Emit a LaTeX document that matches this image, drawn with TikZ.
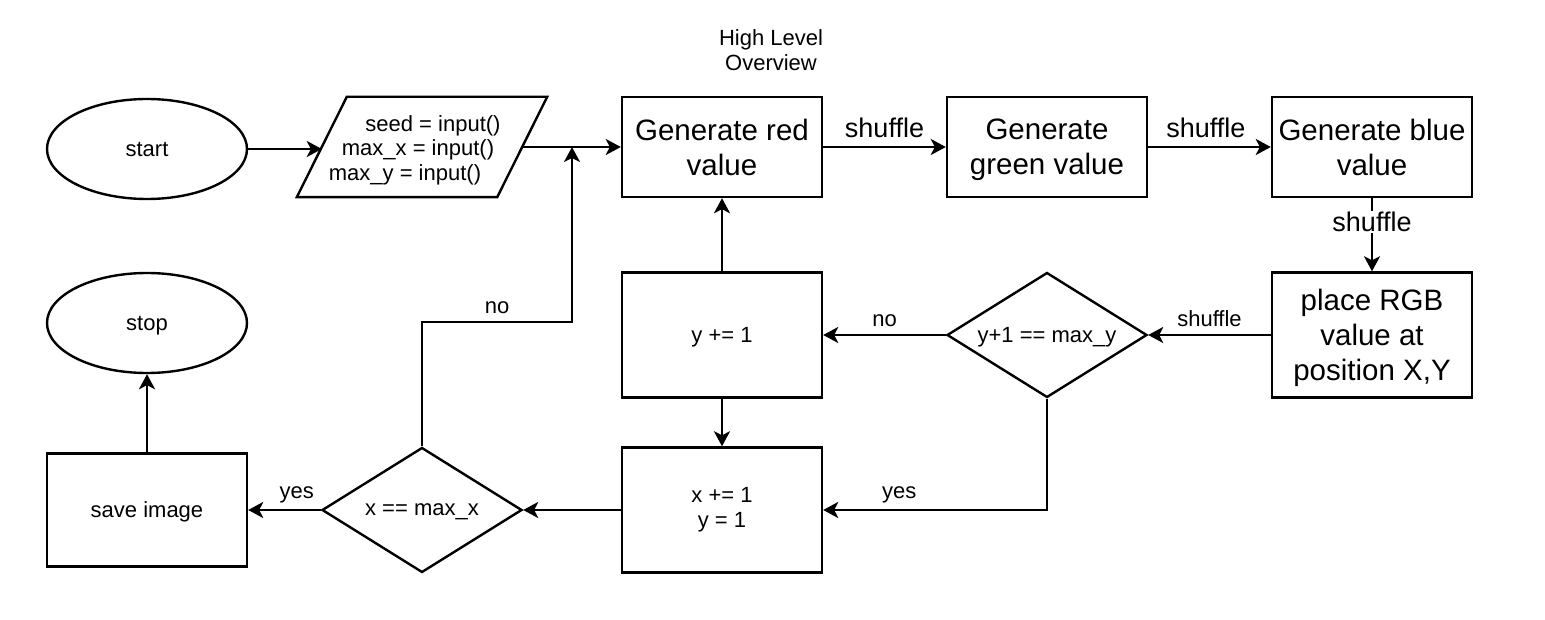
\documentclass[tikz,border=0pt]{standalone}
\usepackage{fontspec}
\setmainfont{Liberation Sans}
\usetikzlibrary{arrows.meta,shapes.geometric,calc}
\newcommand{\nodesc}[1]{\raisebox{0pt}[\height][0pt]{#1}}
\tikzset{
  base/.style={draw, line width=2.4pt, inner sep=0pt, align=center, font=\fontsize{29.5}{35}\selectfont},
  proc/.style={base, rectangle, minimum width=200pt, minimum height=100pt},
  procsm/.style={base, rectangle, minimum width=200pt, minimum height=125pt, font=\fontsize{22}{25}\selectfont},
  term/.style={base, ellipse, minimum width=200pt, minimum height=100pt, font=\fontsize{22}{25}\selectfont, text depth=0pt},
  dec/.style={base, diamond, minimum width=200pt, minimum height=125pt, aspect=1.6, font=\fontsize{22}{25}\selectfont, text depth=0pt},
  conn/.style={line width=2.4pt, -{Stealth[length=15pt, width=16pt, inset=4pt]}},
  lbl/.style={font=\fontsize{22}{25}\selectfont, inner sep=1pt},
  lblbig/.style={font=\fontsize{27}{30}\selectfont, inner sep=1pt},
}
\begin{document}
\begin{tikzpicture}[x=1pt, y=-1pt]
\useasboundingbox (0,0) rectangle (1545,620);
% title
\node[lbl, align=center] (title) at (771,50) {High Level\\Overview};
% nodes
\node[term] (start) at (147,149) {start};
\node[rectangle, minimum width=200pt, minimum height=100pt, inner sep=0pt] (par) at (422,147) {};
\draw[line width=2.4pt, line join=miter] ($(par.north west)+(25,0)$) -- ($(par.north east)+(25,0)$) -- ($(par.south east)+(-25,0)$) -- ($(par.south west)+(-25,0)$) -- cycle;
\node[lbl] (p1) at (433,126) {seed = input()};
\node[lbl] (p2) at (418,150) {max\_x = input()};
\node[lbl] (p3) at (405,175) {max\_y = input()};
\node[proc] (red) at (722,147) {Generate red\\value};
\node[proc] (green) at (1047,147) {Generate\\\nodesc{green value}};
\node[proc] (blue) at (1372,147) {Generate blue\\value};
\node[proc, minimum height=125pt] (place) at (1372,335) {place RGB\\value at\\\nodesc{position X,Y}};
\node[dec] (d1) at (1047,335) {y+1 == max\_y};
\node[procsm, text depth=0pt] (yinc) at (722,335) {y += 1};
\node[procsm] (xinc) at (722,510) {x += 1\\y = 1};
\node[dec] (d2) at (422,510) {x == max\_x};
\node[procsm, minimum height=113pt, text depth=0pt] (save) at (147,510) {save image};
\node[term] (stop) at (147,323) {stop};
\coordinate (join) at (572,147);
% connectors
\draw[conn] (start.east) -- (start.east -| par.west);
\draw[conn] (par) -- (red);
\draw[conn] (red) -- node[lblbig, above=7pt] (s1) {shuffle} (green);
\draw[conn] (green) -- node[lblbig, above=7pt, pos=0.47] (s2) {shuffle} (blue);
\draw[conn] (blue) -- node[lblbig, fill=white, pos=0.33] (s3) {shuffle} (place);
\draw[conn] (place) -- node[lbl, above=6pt, pos=0.5] (s4) {shuffle} (d1);
\draw[conn] (d1) -- node[lbl, above=6pt, pos=0.5] (no1) {no} (yinc);
\draw[conn] (d1.south) |- node[lbl, above=5pt, pos=0.83] (yes1) {yes} (xinc.east);
\draw[conn] (yinc) -- (red);
\draw[conn] (yinc) -- (xinc);
\draw[conn] (xinc) -- (d2);
\draw[conn] (d2) -- node[lbl, above=5pt, pos=0.33] (yes2) {yes} (save);
\draw[conn] (d2.north) -- (422,322) -- node[lbl, above=6pt, pos=0.5] (no2) {no} (572,322) -- (join);
\draw[conn] (save) -- (stop);
\end{tikzpicture}
\end{document}
